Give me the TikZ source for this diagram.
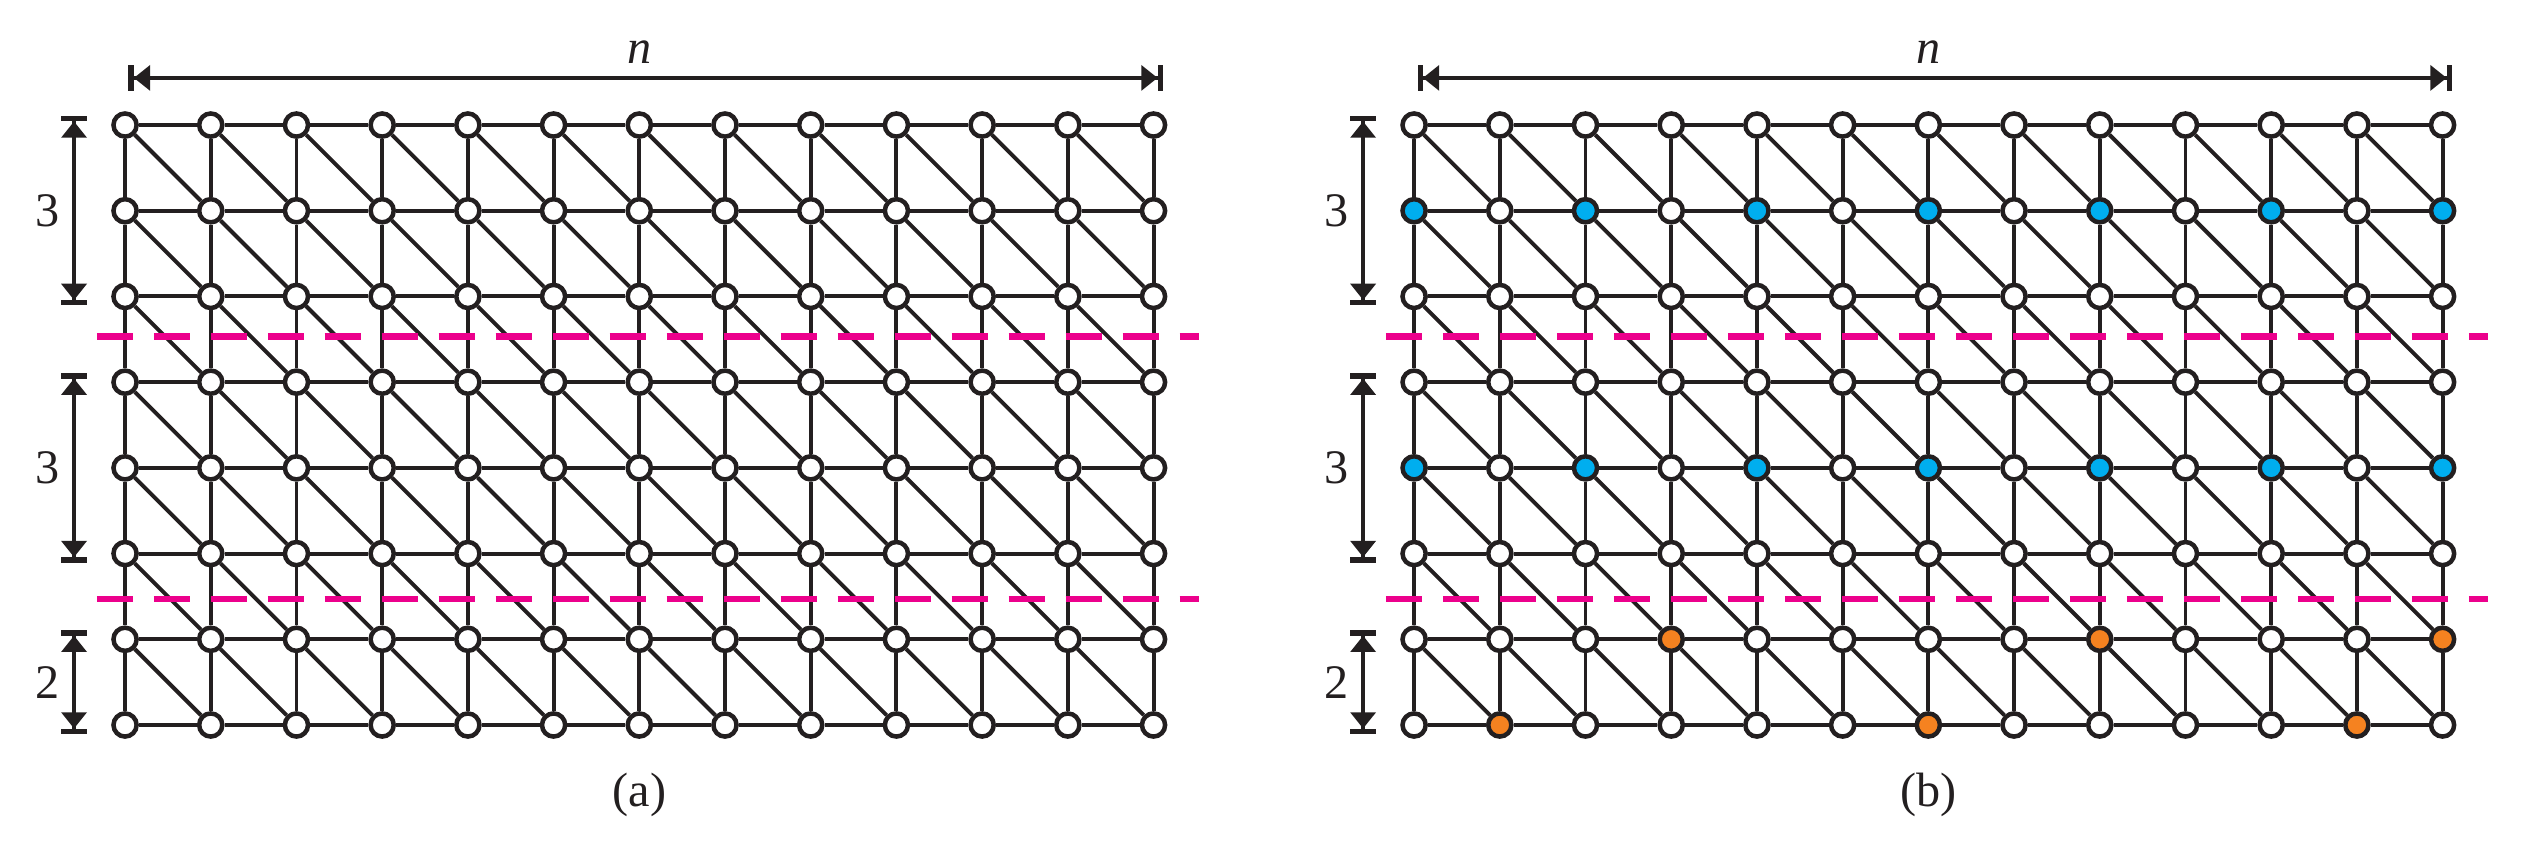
\documentclass[tikz,border=0pt]{standalone}
\usepackage{fontspec}
\setmainfont{Liberation Serif}
\usetikzlibrary{arrows.meta}

\definecolor{ink}{HTML}{231F20}
\definecolor{cutpink}{HTML}{EC008C}
\definecolor{dotblue}{HTML}{00AEEF}
\definecolor{dotorange}{HTML}{F58220}

\tikzset{
  vtx/.style={circle, draw=ink, fill=white, line width=1.5pt, minimum size=2.7mm, inner sep=0pt},
  link/.style={draw=ink, line width=1.3pt},
  cut/.style={draw=cutpink, line width=2.3pt, dash pattern=on 4.2mm off 2.45mm},
  dim/.style={draw=ink, line width=1.3pt,
    {Bar[width=3mm,line width=1.8pt]Triangle[length=1.9mm,width=2.9mm]}-{Triangle[length=1.9mm,width=2.9mm]Bar[width=3mm,line width=1.8pt]}},
  lbl/.style={text=ink, font=\fontsize{16}{19}\selectfont, inner sep=0pt}
}

\begin{document}
\begin{tikzpicture}
  \useasboundingbox (-1.459,1.459) rectangle (28.13,-8.518);

  \foreach \p/\dx/\on/\lab in {a/0/0/a, b/15.04/1/b}{
    \begin{scope}[xshift=\dx cm]

    %vertices
    \foreach \r in {0,...,7}{
      \foreach \c in {0,...,12}{
        \pgfmathtruncatemacro\k{\on*(((\r==1)||(\r==4))&&(mod(\c,2)==0))
          + 2*\on*(((\r==6)&&((\c==3)||(\c==8)||(\c==12)))||((\r==7)&&((\c==1)||(\c==6)||(\c==11))))}
        \ifcase\k \def\vf{white}\or \def\vf{dotblue}\or \def\vf{dotorange}\fi
        \node[vtx, fill=\vf] (\p-\r-\c) at (\c,-\r) {};
      }
    }

    %edges
    \foreach \r in {0,...,7}{
      \foreach \c [count=\cn] in {0,...,11}
        \draw[link] (\p-\r-\c) -- (\p-\r-\cn);
    }
    \foreach \r [count=\rn] in {0,...,6}{
      \foreach \c in {0,...,12}
        \draw[link] (\p-\r-\c) -- (\p-\rn-\c);
      \foreach \c [count=\cn] in {0,...,11}
        \draw[link] (\p-\r-\c) -- (\p-\rn-\cn);
    }

    %width n
    \coordinate (\p-nl) at (0.04,0.55);
    \coordinate (\p-nr) at (12.11,0.55);
    \draw[dim] (\p-nl) -- (\p-nr);
    \node[lbl] (\p-n) at (6,0.85) {\textit{n}};

    %heights
    \foreach \t/\b/\num in {0/2/3, 3/5/3, 6/7/2}{
      \coordinate (\p-top\t) at (-0.595,-\t+0.105);
      \coordinate (\p-bot\t) at (-0.595,-\b-0.105);
      \draw[dim] (\p-top\t) -- (\p-bot\t);
      \node[lbl] (\p-h\t) at (-0.91,{-(\t+\b)/2}) {\num};
    }

    %cuts
    \draw[cut] (-0.33,-2.47) -- (12.53,-2.47);
    \draw[cut] (-0.33,-5.53) -- (12.53,-5.53);

    \node[lbl] (\p-cap) at (6,-7.82) {(\lab)};
    \end{scope}
  }
\end{tikzpicture}
\end{document}
